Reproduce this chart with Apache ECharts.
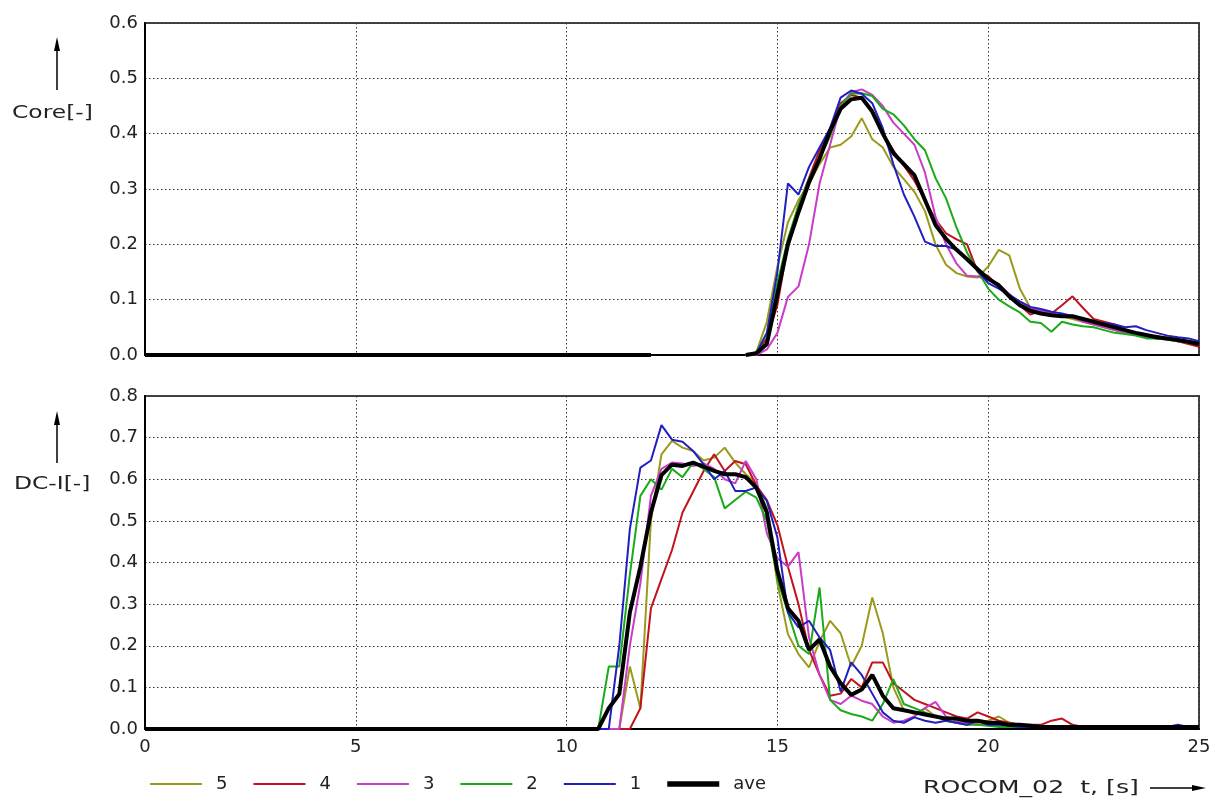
<!DOCTYPE html>
<html>
<head>
<meta charset="utf-8">
<script src="https://cdn.jsdelivr.net/npm/echarts@6/dist/echarts.min.js"></script>
<style>
  html, body { margin: 0; padding: 0; background: #fff; }
  #chart { width: 1231px; height: 807px; }
</style>
</head>
<body>
<div id="chart"></div>
<script>
// time axis of the upper panel (Core), null marks the gap in the record
const timesTop = [0, 3, 6, 9, 12, 13,
  14.25, 14.5, 14.75, 15, 15.25, 15.5, 15.75, 16, 16.25, 16.5, 16.75, 17, 17.25, 17.5, 17.75, 18,
  18.25, 18.5, 18.75, 19, 19.25, 19.5, 19.75, 20, 20.25, 20.5, 20.75, 21, 21.25, 21.5, 21.75, 22,
  22.25, 22.5, 22.75, 23, 23.25, 23.5, 23.75, 24, 24.25, 24.5, 24.75, 25];

const core5 = [0, 0, 0, 0, 0, null,
  0, 0.005, 0.06, 0.16, 0.24, 0.28, 0.31, 0.345, 0.375, 0.38, 0.395, 0.428, 0.39, 0.375, 0.34, 0.318,
  0.295, 0.26, 0.2, 0.163, 0.148, 0.142, 0.14, 0.16, 0.19, 0.18, 0.12, 0.085, 0.078, 0.075, 0.07, 0.065,
  0.06, 0.055, 0.05, 0.045, 0.04, 0.038, 0.035, 0.03, 0.028, 0.025, 0.022, 0.02];
const core4 = [0, 0, 0, 0, 0, null,
  0, 0.003, 0.03, 0.09, 0.2, 0.27, 0.32, 0.37, 0.41, 0.455, 0.47, 0.465, 0.44, 0.4, 0.37, 0.342,
  0.315, 0.28, 0.245, 0.22, 0.209, 0.2, 0.15, 0.143, 0.123, 0.105, 0.09, 0.073, 0.08, 0.075, 0.09, 0.106,
  0.085, 0.065, 0.06, 0.055, 0.045, 0.04, 0.035, 0.035, 0.03, 0.025, 0.02, 0.015];
const core3 = [0, 0, 0, 0, 0, null,
  0, 0, 0.01, 0.04, 0.105, 0.124, 0.2, 0.31, 0.38, 0.45, 0.475, 0.48, 0.47, 0.45, 0.42, 0.4,
  0.38, 0.33, 0.25, 0.2, 0.165, 0.143, 0.142, 0.135, 0.128, 0.11, 0.095, 0.085, 0.08, 0.075, 0.07, 0.068,
  0.06, 0.055, 0.05, 0.045, 0.04, 0.036, 0.033, 0.03, 0.028, 0.025, 0.022, 0.02];
const core2 = [0, 0, 0, 0, 0, null,
  0, 0.005, 0.04, 0.13, 0.21, 0.27, 0.318, 0.355, 0.395, 0.45, 0.472, 0.473, 0.468, 0.445, 0.435, 0.415,
  0.39, 0.37, 0.32, 0.283, 0.23, 0.185, 0.152, 0.12, 0.1, 0.088, 0.077, 0.06, 0.058, 0.042, 0.06, 0.055,
  0.052, 0.05, 0.045, 0.04, 0.038, 0.035, 0.03, 0.03, 0.028, 0.025, 0.025, 0.022];
const core1 = [0, 0, 0, 0, 0, null,
  0, 0.003, 0.04, 0.15, 0.31, 0.29, 0.34, 0.375, 0.41, 0.465, 0.478, 0.472, 0.455, 0.41, 0.345, 0.29,
  0.25, 0.205, 0.197, 0.197, 0.19, 0.172, 0.152, 0.13, 0.12, 0.108, 0.097, 0.087, 0.083, 0.078, 0.075, 0.07,
  0.065, 0.06, 0.058, 0.055, 0.05, 0.052, 0.045, 0.04, 0.035, 0.032, 0.03, 0.025];
const coreAve = [0, 0, 0, 0, 0, null,
  0, 0.003, 0.02, 0.11, 0.2, 0.258, 0.312, 0.355, 0.405, 0.445, 0.462, 0.465, 0.44, 0.4, 0.365, 0.345,
  0.325, 0.28, 0.235, 0.21, 0.19, 0.173, 0.155, 0.138, 0.126, 0.106, 0.09, 0.08, 0.075, 0.072, 0.07, 0.07,
  0.065, 0.06, 0.055, 0.05, 0.045, 0.04, 0.036, 0.032, 0.03, 0.027, 0.024, 0.02];

// time axis of the lower panel (DC-I)
const timesBottom = [0, 3, 6, 9,
  10.75, 11, 11.25, 11.5, 11.75, 12, 12.25, 12.5, 12.75, 13, 13.25, 13.5, 13.75, 14, 14.25, 14.5,
  14.75, 15, 15.25, 15.5, 15.75, 16, 16.25, 16.5, 16.75, 17, 17.25, 17.5, 17.75, 18, 18.25, 18.5,
  18.75, 19, 19.25, 19.5, 19.75, 20, 20.25, 20.5, 20.75, 21, 21.25, 21.5, 21.75, 22, 22.25, 22.5,
  22.75, 23, 23.25, 23.5, 23.75, 24, 24.25, 24.5, 24.75, 25];

const dc5 = [0, 0, 0, 0,
  0, 0, 0, 0.15, 0.05, 0.5, 0.66, 0.692, 0.676, 0.668, 0.645, 0.652, 0.676, 0.64, 0.612, 0.59,
  0.53, 0.35, 0.228, 0.18, 0.148, 0.21, 0.26, 0.23, 0.15, 0.2, 0.316, 0.23, 0.1, 0.045, 0.036, 0.05,
  0.03, 0.02, 0.015, 0.01, 0.015, 0.02, 0.03, 0.015, 0.01, 0.008, 0.005, 0.005, 0.005, 0.003, 0.003, 0.003,
  0.003, 0.003, 0.003, 0.003, 0.003, 0.003, 0.003, 0.003, 0.003, 0.003];
const dc4 = [0, 0, 0, 0,
  0, 0, 0, 0, 0.05, 0.29, 0.36, 0.43, 0.52, 0.57, 0.62, 0.66, 0.62, 0.644, 0.636, 0.585,
  0.55, 0.49, 0.39, 0.3, 0.19, 0.13, 0.08, 0.085, 0.12, 0.1, 0.16, 0.16, 0.11, 0.09, 0.07, 0.06,
  0.05, 0.04, 0.03, 0.025, 0.04, 0.03, 0.02, 0.015, 0.01, 0.01, 0.01, 0.02, 0.025, 0.01, 0.005, 0.005,
  0.005, 0.005, 0.005, 0.005, 0.005, 0.005, 0.005, 0.008, 0.005, 0.005];
const dc3 = [0, 0, 0, 0,
  0, 0, 0, 0.2, 0.35, 0.56, 0.625, 0.64, 0.638, 0.632, 0.638, 0.625, 0.6, 0.59, 0.644, 0.6,
  0.47, 0.41, 0.39, 0.425, 0.22, 0.13, 0.07, 0.06, 0.08, 0.068, 0.06, 0.03, 0.015, 0.02, 0.03, 0.05,
  0.065, 0.03, 0.02, 0.015, 0.01, 0.01, 0.008, 0.005, 0.005, 0.005, 0.005, 0.005, 0.005, 0.005, 0.005, 0.005,
  0.005, 0.005, 0.005, 0.005, 0.005, 0.005, 0.005, 0.005, 0.005, 0.005];
const dc2 = [0, 0, 0, 0,
  0, 0.15, 0.15, 0.37, 0.56, 0.6, 0.575, 0.625, 0.605, 0.64, 0.625, 0.605, 0.53, 0.55, 0.57, 0.556,
  0.5, 0.36, 0.28, 0.2, 0.18, 0.34, 0.07, 0.045, 0.036, 0.03, 0.02, 0.06, 0.12, 0.06, 0.05, 0.04,
  0.03, 0.02, 0.015, 0.01, 0.01, 0.008, 0.005, 0.005, 0.005, 0.005, 0.005, 0.005, 0.005, 0.005, 0.005, 0.005,
  0.005, 0.005, 0.005, 0.005, 0.005, 0.005, 0.005, 0.005, 0.005, 0.005];
const dc1 = [0, 0, 0, 0,
  0, 0, 0.2, 0.48, 0.628, 0.645, 0.73, 0.695, 0.69, 0.668, 0.636, 0.6, 0.62, 0.572, 0.572, 0.58,
  0.548, 0.46, 0.28, 0.244, 0.26, 0.22, 0.19, 0.09, 0.16, 0.13, 0.085, 0.04, 0.02, 0.015, 0.028, 0.02,
  0.015, 0.02, 0.015, 0.01, 0.02, 0.01, 0.01, 0.008, 0.005, 0.005, 0.005, 0.005, 0.005, 0.005, 0.005, 0.005,
  0.005, 0.005, 0.005, 0.005, 0.005, 0.005, 0.005, 0.01, 0.005, 0.005];
const dcAve = [0, 0, 0, 0,
  0, 0.05, 0.084, 0.28, 0.39, 0.52, 0.61, 0.635, 0.632, 0.64, 0.63, 0.62, 0.612, 0.612, 0.605, 0.58,
  0.52, 0.38, 0.29, 0.26, 0.19, 0.215, 0.15, 0.11, 0.082, 0.095, 0.13, 0.08, 0.05, 0.045, 0.04, 0.035,
  0.03, 0.025, 0.025, 0.02, 0.02, 0.015, 0.015, 0.01, 0.01, 0.008, 0.005, 0.005, 0.005, 0.005, 0.005, 0.005,
  0.005, 0.005, 0.005, 0.005, 0.005, 0.005, 0.005, 0.005, 0.005, 0.005];

const seriesNames = ["5", "4", "3", "2", "1", "ave"];
const seriesColors = ["#9c9a1c", "#c0141c", "#c83cc8", "#1aaa1a", "#2020c0", "#000000"];
const coreData = [core5, core4, core3, core2, core1, coreAve];
const dcData = [dc5, dc4, dc3, dc2, dc1, dcAve];

const xTicks = { min: 0, max: 25, interval: 5 };
const coreTicks = { min: 0, max: 0.6, interval: 0.1 };
const dcTicks = { min: 0, max: 0.8, interval: 0.1 };

const FONT = "DejaVu Sans";
const chart = echarts.init(document.getElementById("chart"));

function pairs(times, vals) {
  return times.map((t, i) => [t, vals[i] === null ? "-" : vals[i]]);
}

const dotted = { color: "#333", width: 1, type: [1.5, 2.5] };

function xAxisOf(gridIndex, showLabel) {
  return {
    type: "value", gridIndex: gridIndex,
    min: xTicks.min, max: xTicks.max, interval: xTicks.interval,
    axisLine: { show: true, lineStyle: { color: "#000", width: 2 } },
    axisTick: { show: false },
    axisLabel: { show: showLabel, color: "#222", fontFamily: FONT, fontSize: 18, margin: 9 },
    splitLine: { show: true, lineStyle: dotted },
  };
}
function yAxisOf(gridIndex, ticks) {
  return {
    type: "value", gridIndex: gridIndex,
    min: ticks.min, max: ticks.max, interval: ticks.interval,
    axisLine: { show: true, lineStyle: { color: "#000", width: 2 } },
    axisTick: { show: false },
    axisLabel: {
      color: "#222", fontFamily: FONT, fontSize: 18, margin: 7,
      formatter: (v) => v.toFixed(1),
    },
    splitLine: { show: true, lineStyle: dotted },
  };
}

const series = [];
[coreData, dcData].forEach((set, g) => {
  const times = g === 0 ? timesTop : timesBottom;
  set.forEach((vals, k) => {
    series.push({
      name: seriesNames[k],
      type: "line",
      xAxisIndex: g, yAxisIndex: g,
      symbol: "none",
      connectNulls: false,
      z: k === 5 ? 5 : 3,
      color: seriesColors[k],
      lineStyle: { color: seriesColors[k], width: k === 5 ? 4 : 2 },
      data: pairs(times, vals),
    });
  });
});

const legendItems = seriesNames.map((name, k) => ({
  name: name,
  icon: k === 5 ? "path://M0,0H47V5H0Z" : "path://M0,0H52V2H0Z",
}));

const arrowUp = (x, y1, y2) => [
  { type: "line", shape: { x1: x, y1: y1, x2: x, y2: y2 + 6 }, style: { stroke: "#000", lineWidth: 1.5 } },
  { type: "polygon", shape: { points: [[x, y2], [x - 3, y2 + 14], [x + 3, y2 + 14]] }, style: { fill: "#000" } },
];

chart.setOption({
  animation: false,
  backgroundColor: "#fff",
  grid: [
    { left: 145, right: 32, top: 23, height: 332, show: true, borderColor: "#444", borderWidth: 2 },
    { left: 145, right: 32, top: 396, height: 333, show: true, borderColor: "#444", borderWidth: 2 },
  ],
  xAxis: [xAxisOf(0, false), xAxisOf(1, true)],
  yAxis: [yAxisOf(0, coreTicks), yAxisOf(1, dcTicks)],
  legend: {
    data: legendItems,
    left: 145, top: 770,
    itemWidth: 52, itemHeight: 14, itemGap: 26,
    symbolKeepAspect: true,
    textStyle: { fontFamily: FONT, fontSize: 18, color: "#222", padding: [0, 0, 0, 9] },
  },
  graphic: [
    ...arrowUp(57, 90, 37),
    { type: "text", x: 12, y: 113, scaleX: 1.3, style: { text: "Core[-]", font: "18px " + FONT, fill: "#222", verticalAlign: "middle" } },
    ...arrowUp(57, 463, 411),
    { type: "text", x: 14, y: 484, scaleX: 1.3, style: { text: "DC-I[-]", font: "18px " + FONT, fill: "#222", verticalAlign: "middle" } },
    { type: "text", x: 923, y: 788, scaleX: 1.4, style: { text: "ROCOM_02  t, [s]", font: "18px " + FONT, fill: "#222", verticalAlign: "middle" } },
    { type: "line", shape: { x1: 1150, y1: 788, x2: 1198, y2: 788 }, style: { stroke: "#000", lineWidth: 1.5 } },
    { type: "polygon", shape: { points: [[1206, 788], [1192, 785], [1192, 791]] }, style: { fill: "#000" } },
  ],
  series: series,
});
</script>
</body>
</html>
